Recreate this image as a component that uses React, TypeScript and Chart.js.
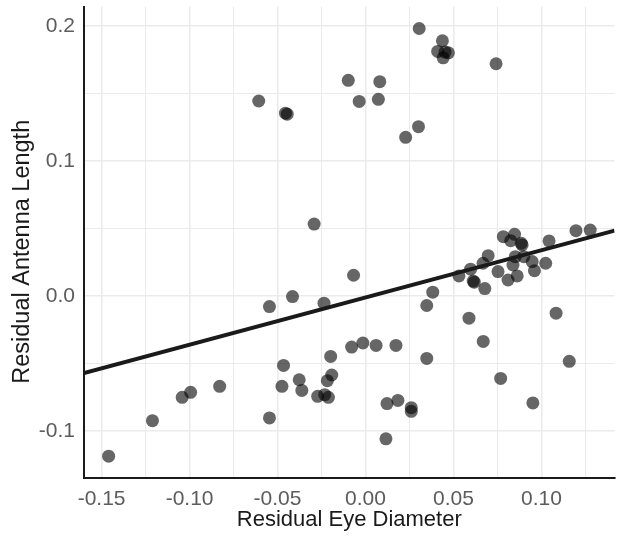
import React, { useEffect, useRef } from 'react';
import { Chart, registerables } from 'chart.js';

Chart.register(...registerables);

// Residual Eye Diameter (x) and Residual Antenna Length (y)
const eyeDiameter = [
  -0.146, -0.1211, -0.1042, -0.0994, -0.0829, -0.0607, -0.0546, -0.0546, -0.0475, -0.0466,
  -0.0455, -0.0445, -0.0415, -0.0377, -0.0362, -0.0292, -0.0272, -0.0236, -0.0232, -0.0211,
  -0.0217, -0.0192, -0.0198, -0.0098, -0.0079, -0.0068, -0.0036, -0.0015, 0.006, 0.0073,
  0.0081, 0.0116, 0.0122, 0.0173, 0.0184, 0.0228, 0.026, 0.026, 0.0301, 0.0305,
  0.0348, 0.0348, 0.0382, 0.041, 0.0437, 0.0441, 0.0452, 0.0471, 0.0531, 0.0588,
  0.0597, 0.0612, 0.0618, 0.0668, 0.0669, 0.0678, 0.0697, 0.0742, 0.0753, 0.0768,
  0.0783, 0.081, 0.0825, 0.0838, 0.0847, 0.0851, 0.0862, 0.0885, 0.089, 0.09,
  0.0947, 0.0951, 0.096, 0.1024, 0.1043, 0.1083, 0.1158, 0.1196, 0.1277,
];
const antennaLength = [
  -0.1185, -0.0922, -0.0749, -0.0712, -0.0668, 0.1446, -0.0077, -0.0902, -0.0668, -0.0513,
  0.1356, 0.1348, -0.0003, -0.0619, -0.0698, 0.0534, -0.0742, -0.0052, -0.073, -0.0749,
  -0.0626, -0.0584, -0.0446, 0.1599, -0.0377, 0.0155, 0.1443, -0.0347, -0.0365, 0.1458,
  0.1589, -0.1057, -0.0796, -0.0365, -0.0772, 0.1177, -0.0826, -0.0853, 0.1256, 0.1983,
  -0.0069, -0.0461, 0.003, 0.1813, 0.1892, 0.1766, 0.1808, 0.1803, 0.015, -0.0163,
  0.02, 0.0112, 0.0104, 0.0244, -0.0335, 0.0056, 0.03, 0.1722, 0.0182, -0.0609,
  0.0441, 0.012, 0.0411, 0.0231, 0.0458, 0.0293, 0.015, 0.0392, 0.038, 0.0293,
  0.0256, -0.0791, 0.0189, 0.0244, 0.0409, -0.0126, -0.0483, 0.0485, 0.049,
];

// Fitted regression line
const fitSlope = 0.35;
const fitIntercept = -0.001;

// Axis ranges, tick values and titles
const xRange = [-0.16, 0.1415];
const yRange = [-0.1347, 0.2146];
const xTickValues = [-0.15, -0.125, -0.1, -0.075, -0.05, -0.025, 0, 0.025, 0.05, 0.075, 0.1, 0.125];
const yTickValues = [-0.1, -0.05, 0, 0.05, 0.1, 0.15, 0.2];
const xMajorStep = 0.05;
const yMajorStep = 0.1;
const xTitle = 'Residual Eye Diameter';
const yTitle = 'Residual Antenna Length';

const FONT = 'Liberation Sans, Arial, Helvetica, sans-serif';

const isMajor = (v: number, step: number) => Math.abs(v / step - Math.round(v / step)) < 1e-6;

const yTitlePlugin = {
  id: 'yTitle',
  afterDraw(chart: any) {
    const { ctx, chartArea } = chart;
    ctx.save();
    ctx.fillStyle = '#1a1a1a';
    ctx.font = `23.5px ${FONT}`;
    ctx.textAlign = 'center';
    ctx.textBaseline = 'middle';
    ctx.translate(23, (chartArea.top + chartArea.bottom) / 2 + 9.5);
    ctx.rotate(-Math.PI / 2);
    ctx.fillText(yTitle, 0, 0);
    ctx.restore();
  },
};

export default function App() {
  const canvasRef = useRef<HTMLCanvasElement | null>(null);

  useEffect(() => {
    const canvas = canvasRef.current;
    if (!canvas) return;
    const points = eyeDiameter.map((x, i) => ({ x, y: antennaLength[i] }));
    const fitLine = xRange.map((x) => ({ x, y: fitIntercept + fitSlope * x }));
    const tickFont = { family: FONT, size: 21 };

    const chart = new Chart(canvas, {
      type: 'scatter',
      data: {
        datasets: [
          {
            type: 'line',
            data: fitLine,
            borderColor: '#1a1a1a',
            borderWidth: 4,
            pointRadius: 0,
            fill: false,
            order: 0,
          } as any,
          {
            type: 'scatter',
            data: points,
            backgroundColor: 'rgba(0,0,0,0.6)',
            borderWidth: 0,
            pointRadius: 6.5,
            order: 1,
          },
        ],
      },
      plugins: [yTitlePlugin],
      options: {
        animation: false,
        responsive: false,
        devicePixelRatio: 1,
        layout: { padding: { top: 6, right: 4, left: 0, bottom: 0 } },
        plugins: { legend: { display: false }, tooltip: { enabled: false } },
        scales: {
          x: {
            type: 'linear',
            min: xRange[0],
            max: xRange[1],
            afterBuildTicks: (scale: any) => {
              scale.ticks = xTickValues.map((v) => ({ value: v }));
            },
            afterFit: (scale: any) => {
              scale.height = 59;
              scale.paddingLeft = 0;
              scale.paddingRight = 0;
            },
            border: { display: true, color: '#1a1a1a', width: 2 },
            grid: {
              drawTicks: false,
              color: '#ebebeb',
              lineWidth: (ctx: any) => (ctx.tick && isMajor(ctx.tick.value, xMajorStep) ? 1.6 : 1),
            },
            ticks: {
              padding: 9,
              color: '#5c5c5c',
              font: tickFont,
              maxRotation: 0,
              autoSkip: false,
              callback: (v: any) => (isMajor(Number(v), xMajorStep) ? Number(v).toFixed(2) : ''),
            },
            title: {
              display: true,
              text: xTitle,
              color: '#1a1a1a',
              font: { family: FONT, size: 22 },
              padding: { top: 0, bottom: 4 },
            },
          },
          y: {
            type: 'linear',
            min: yRange[0],
            max: yRange[1],
            afterBuildTicks: (scale: any) => {
              scale.ticks = yTickValues.map((v) => ({ value: v }));
            },
            afterFit: (scale: any) => {
              scale.width = 84;
              scale.paddingTop = 0;
              scale.paddingBottom = 0;
            },
            border: { display: true, color: '#1a1a1a', width: 2 },
            grid: {
              drawTicks: false,
              color: '#ebebeb',
              lineWidth: (ctx: any) => (ctx.tick && isMajor(ctx.tick.value, yMajorStep) ? 1.6 : 1),
            },
            ticks: {
              padding: 9,
              color: '#5c5c5c',
              font: tickFont,
              autoSkip: false,
              callback: (v: any) => (isMajor(Number(v), yMajorStep) ? Number(v).toFixed(1) : ''),
            },
          },
        },
      },
    });
    return () => chart.destroy();
  }, []);

  return (
    <div style={{ position: 'fixed', left: 0, top: 0, width: 621, height: 537, background: '#fff' }}>
      <canvas ref={canvasRef} width={621} height={537} />
    </div>
  );
}
